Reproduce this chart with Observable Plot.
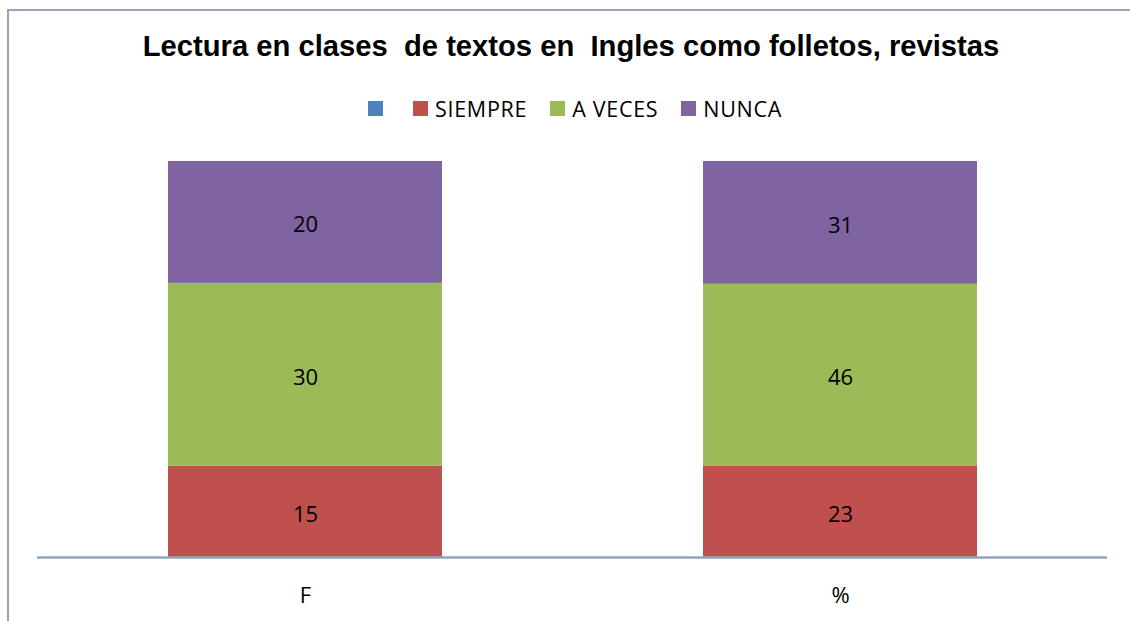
<!DOCTYPE html>
<html>
<head>
<meta charset="utf-8">
<script src="https://cdn.jsdelivr.net/npm/d3@7"></script>
<script src="https://cdn.jsdelivr.net/npm/@observablehq/plot@0.6"></script>
<style>
  html, body { margin: 0; padding: 0; background: #fff; }
  #wrap { position: relative; width: 1130px; height: 621px; overflow: hidden; background: #fff; }
  #frame { position: absolute; left: 7px; top: 9px; width: 1300px; height: 800px;
           border-left: 2px solid #95A3BF; border-top: 2px solid #95A3BF; pointer-events: none; }
  #title { position: relative; height: 64px; box-sizing: border-box; padding-top: 29px; padding-left: 12px;
           text-align: center; font-family: "Liberation Sans", Arial, sans-serif; font-weight: bold;
           font-size: 29.2px; line-height: 34px; color: #000; white-space: nowrap; }
  #legend { position: relative; height: 66px; box-sizing: border-box; padding-top: 23px; padding-left: 20px;
            display: flex; justify-content: center; align-items: center; font-family: "Open Sans", sans-serif;
            font-size: 21.5px; line-height: 28px; letter-spacing: 0.7px; color: #000; }
  .item { display: flex; align-items: center; margin-right: 23px; height: 28px; }
  .item:last-child { margin-right: 0; }
  .sw { width: 15px; height: 15px; margin-right: 7px; }
  #chart { position: relative; height: 491px; }
</style>
</head>
<body>
<div id="wrap">
  <div id="frame"></div>
  <div id="title"></div>
  <div id="legend"></div>
  <div id="chart"></div>
</div>
<script>
const titleText = "Lectura en clases  de textos en  Ingles como folletos, revistas";
const categories = ["F", "%"];
const legendNames = ["", "SIEMPRE", "A VECES", "NUNCA"];
const legendColors = ["#4F81BD", "#C0504D", "#9BBB59", "#8064A2"];
const seriesNames = ["SIEMPRE", "A VECES", "NUNCA"];
const siempre = [15, 23];
const aVeces = [30, 46];
const nunca = [20, 31];

const valuesBySeries = { "SIEMPRE": siempre, "A VECES": aVeces, "NUNCA": nunca };
const data = [];
categories.forEach((c, i) => {
  seriesNames.forEach(s => data.push({ cat: c, serie: s, value: valuesBySeries[s][i] }));
});

document.getElementById("title").textContent = titleText.replace(/ /g, "\u00a0");

const legend = document.getElementById("legend");
legendNames.forEach((n, i) => {
  const item = document.createElement("div");
  item.className = "item";
  const sw = document.createElement("div");
  sw.className = "sw";
  sw.style.background = legendColors[i];
  item.appendChild(sw);
  const t = document.createElement("span");
  t.textContent = n;
  item.appendChild(t);
  legend.appendChild(item);
});

const order = seriesNames;
const chart = Plot.plot({
  width: 1130,
  height: 491,
  marginTop: 31,
  marginBottom: 64,
  marginLeft: 37,
  marginRight: 23,
  x: { domain: categories, paddingInner: 0.488, paddingOuter: 0.244, label: null, tickSize: 0, tickPadding: 30 },
  y: { axis: null, domain: [0, 1] },
  color: { domain: legendNames, range: legendColors },
  style: { fontFamily: "Open Sans, sans-serif", fontSize: "22px", color: "#000", background: "transparent", overflow: "visible" },
  marks: [
    Plot.barY(data, Plot.stackY({ x: "cat", y: "value", fill: "serie", order, offset: "normalize" })),
    Plot.text(data, Plot.stackY({ x: "cat", y: "value", z: "serie", text: "value", order, offset: "normalize",
                                  fill: "#000", fontSize: 22, dy: 3 })),
    Plot.ruleY([0], { stroke: "#95A3BF", strokeWidth: 2.5 })
  ]
});
document.getElementById("chart").appendChild(chart);
</script>
</body>
</html>
